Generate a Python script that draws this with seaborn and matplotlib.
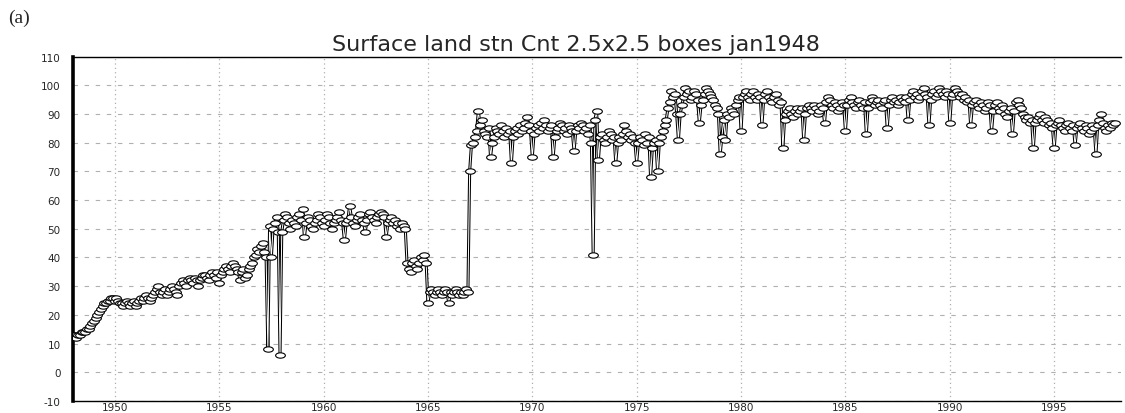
import numpy as np
import pandas as pd
import matplotlib
matplotlib.use("Agg")
import matplotlib.pyplot as plt
import seaborn as sns
from matplotlib.path import Path
from matplotlib.transforms import Affine2D

# monthly station counts, jan..dec, one row per year 1948-1997
counts = {
    1948: [13, 13, 12, 13, 13, 14, 14, 14, 15, 15, 16, 17],
    1949: [18, 19, 20, 21, 22, 23, 24, 24, 25, 25, 26, 26],
    1950: [25, 26, 25, 24, 24, 23, 24, 25, 24, 23, 24, 25],
    1951: [23, 24, 25, 26, 25, 26, 27, 26, 25, 26, 27, 28],
    1952: [29, 30, 28, 27, 28, 29, 27, 28, 29, 30, 29, 28],
    1953: [27, 30, 31, 32, 31, 30, 32, 33, 32, 31, 33, 32],
    1954: [30, 32, 33, 34, 34, 33, 32, 34, 35, 34, 33, 35],
    1955: [31, 34, 35, 36, 37, 36, 35, 37, 38, 37, 36, 35],
    1956: [32, 35, 36, 33, 34, 36, 37, 38, 40, 41, 43, 42],
    1957: [44, 45, 42, 40, 8, 51, 40, 50, 52, 54, 49, 6],
    1958: [49, 53, 55, 54, 52, 50, 53, 52, 51, 54, 55, 53],
    1959: [57, 47, 52, 54, 53, 51, 50, 52, 53, 55, 54, 52],
    1960: [51, 53, 55, 54, 52, 50, 52, 53, 54, 56, 53, 52],
    1961: [46, 52, 53, 58, 54, 52, 51, 53, 54, 55, 53, 52],
    1962: [49, 53, 55, 56, 54, 53, 52, 54, 55, 56, 55, 54],
    1963: [47, 52, 53, 54, 52, 53, 51, 52, 50, 52, 51, 50],
    1964: [38, 36, 35, 38, 39, 37, 36, 38, 40, 39, 41, 38],
    1965: [24, 28, 29, 28, 27, 28, 29, 28, 27, 28, 29, 28],
    1966: [24, 28, 27, 28, 29, 28, 27, 28, 27, 28, 29, 28],
    1967: [70, 79, 80, 82, 84, 91, 86, 88, 84, 83, 82, 85],
    1968: [75, 80, 82, 85, 84, 83, 86, 84, 82, 85, 83, 84],
    1969: [73, 82, 84, 85, 83, 86, 84, 85, 87, 89, 86, 84],
    1970: [75, 83, 85, 86, 84, 87, 85, 88, 86, 84, 85, 86],
    1971: [75, 82, 84, 85, 87, 86, 84, 85, 83, 86, 85, 84],
    1972: [77, 84, 86, 85, 87, 86, 84, 85, 83, 86, 80, 41],
    1973: [88, 91, 74, 82, 83, 81, 80, 82, 84, 83, 81, 82],
    1974: [73, 80, 82, 81, 83, 86, 84, 82, 83, 81, 82, 80],
    1975: [73, 80, 82, 81, 79, 83, 80, 82, 68, 78, 80, 81],
    1976: [70, 80, 82, 84, 86, 88, 92, 94, 98, 96, 97, 90],
    1977: [81, 90, 93, 96, 99, 97, 98, 95, 96, 98, 97, 95],
    1978: [87, 93, 95, 97, 99, 98, 97, 96, 95, 93, 92, 90],
    1979: [76, 82, 88, 81, 90, 89, 92, 91, 90, 93, 95, 96],
    1980: [84, 96, 97, 98, 96, 95, 97, 98, 96, 95, 97, 96],
    1981: [86, 95, 97, 98, 96, 95, 94, 96, 97, 95, 93, 94],
    1982: [78, 88, 90, 91, 92, 90, 89, 91, 92, 90, 91, 92],
    1983: [81, 90, 92, 93, 92, 91, 93, 92, 90, 91, 93, 92],
    1984: [87, 94, 96, 95, 93, 92, 94, 93, 91, 92, 94, 93],
    1985: [84, 93, 95, 96, 94, 93, 92, 94, 95, 93, 92, 94],
    1986: [83, 92, 94, 96, 95, 93, 94, 95, 93, 92, 94, 95],
    1987: [85, 93, 95, 96, 94, 95, 93, 94, 96, 95, 94, 96],
    1988: [88, 95, 97, 98, 96, 97, 95, 96, 98, 99, 97, 96],
    1989: [86, 95, 97, 98, 96, 97, 99, 98, 97, 96, 98, 97],
    1990: [87, 96, 97, 99, 98, 97, 96, 97, 95, 96, 94, 95],
    1991: [86, 93, 94, 95, 93, 92, 94, 93, 91, 92, 94, 93],
    1992: [84, 91, 93, 94, 92, 91, 93, 92, 90, 89, 91, 92],
    1993: [83, 91, 94, 95, 93, 92, 90, 89, 88, 89, 87, 88],
    1994: [78, 87, 88, 89, 90, 88, 87, 89, 88, 86, 87, 85],
    1995: [78, 86, 87, 88, 86, 85, 84, 86, 87, 85, 84, 86],
    1996: [79, 85, 86, 87, 85, 84, 86, 85, 83, 84, 86, 85],
    1997: [76, 86, 88, 90, 87, 85, 84, 86, 85, 87, 86, 87],
}
y_ticks = [-10, 0, 10, 20, 30, 40, 50, 60, 70, 80, 90, 100, 110]
x_ticks = [1950, 1955, 1960, 1965, 1970, 1975, 1980, 1985, 1990, 1995]

rows = []
for yr, vals in counts.items():
    for m, v in enumerate(vals):
        rows.append({"time": yr + m / 12.0, "count": v})
df = pd.DataFrame(rows)

sns.set_style("white")
plt.rcParams['font.family'] = ['DejaVu Sans']

fig = plt.figure(figsize=(11.25, 4.14), dpi=100)
ax = fig.add_axes([73 / 1125, 12 / 414, 1048 / 1125, 344.5 / 414])

# flattened ellipse marker like the GrADS open circles
ell = Path.unit_circle().transformed(Affine2D().scale(1.0, 0.55))

sns.lineplot(data=df, x="time", y="count", color="black", lw=2.2,
             estimator=None, ax=ax, zorder=3)
sns.lineplot(data=df, x="time", y="count", color="white", lw=0.7,
             estimator=None, ax=ax, zorder=4)
ax.plot(df["time"], df["count"], linestyle="none", marker=ell,
        markersize=7, markerfacecolor="white", markeredgecolor="black",
        markeredgewidth=0.8, zorder=5)

ax.set_xlim(1948, 1998.2)
ax.set_ylim(-10, 110)
ax.set_yticks(y_ticks)
ax.set_yticklabels([str(t) for t in y_ticks], fontsize=7.5)
ax.set_xticks(x_ticks)
ax.set_xticklabels([str(t) for t in x_ticks], fontsize=7.5)
ax.set_xlabel("")
ax.set_ylabel("")
ax.tick_params(axis="y", length=3, width=1, pad=6, direction="out")
ax.tick_params(axis="x", length=0, pad=0.5)

ax.yaxis.grid(True, color="#b0b0b0", linestyle=(0, (4, 6)), lw=0.8)
ax.xaxis.grid(True, color="#b0b0b0", linestyle=(0, (1, 2.5)), lw=0.9)

for s in ["top", "bottom"]:
    ax.spines[s].set_linewidth(1.0)
    ax.spines[s].set_color("black")
ax.spines["left"].set_linewidth(2.6)
ax.spines["left"].set_color("black")
ax.spines["right"].set_visible(False)

fig.text(576 / 1125, 1 - 45 / 414, "Surface land stn Cnt 2.5x2.5 boxes jan1948",
         ha="center", va="center", fontsize=16)
fig.text(8 / 1125, 1 - 18 / 414, "(a)", ha="left", va="center",
         fontsize=14, family=["Liberation Serif"])

plt.savefig("out.png", dpi=100)
